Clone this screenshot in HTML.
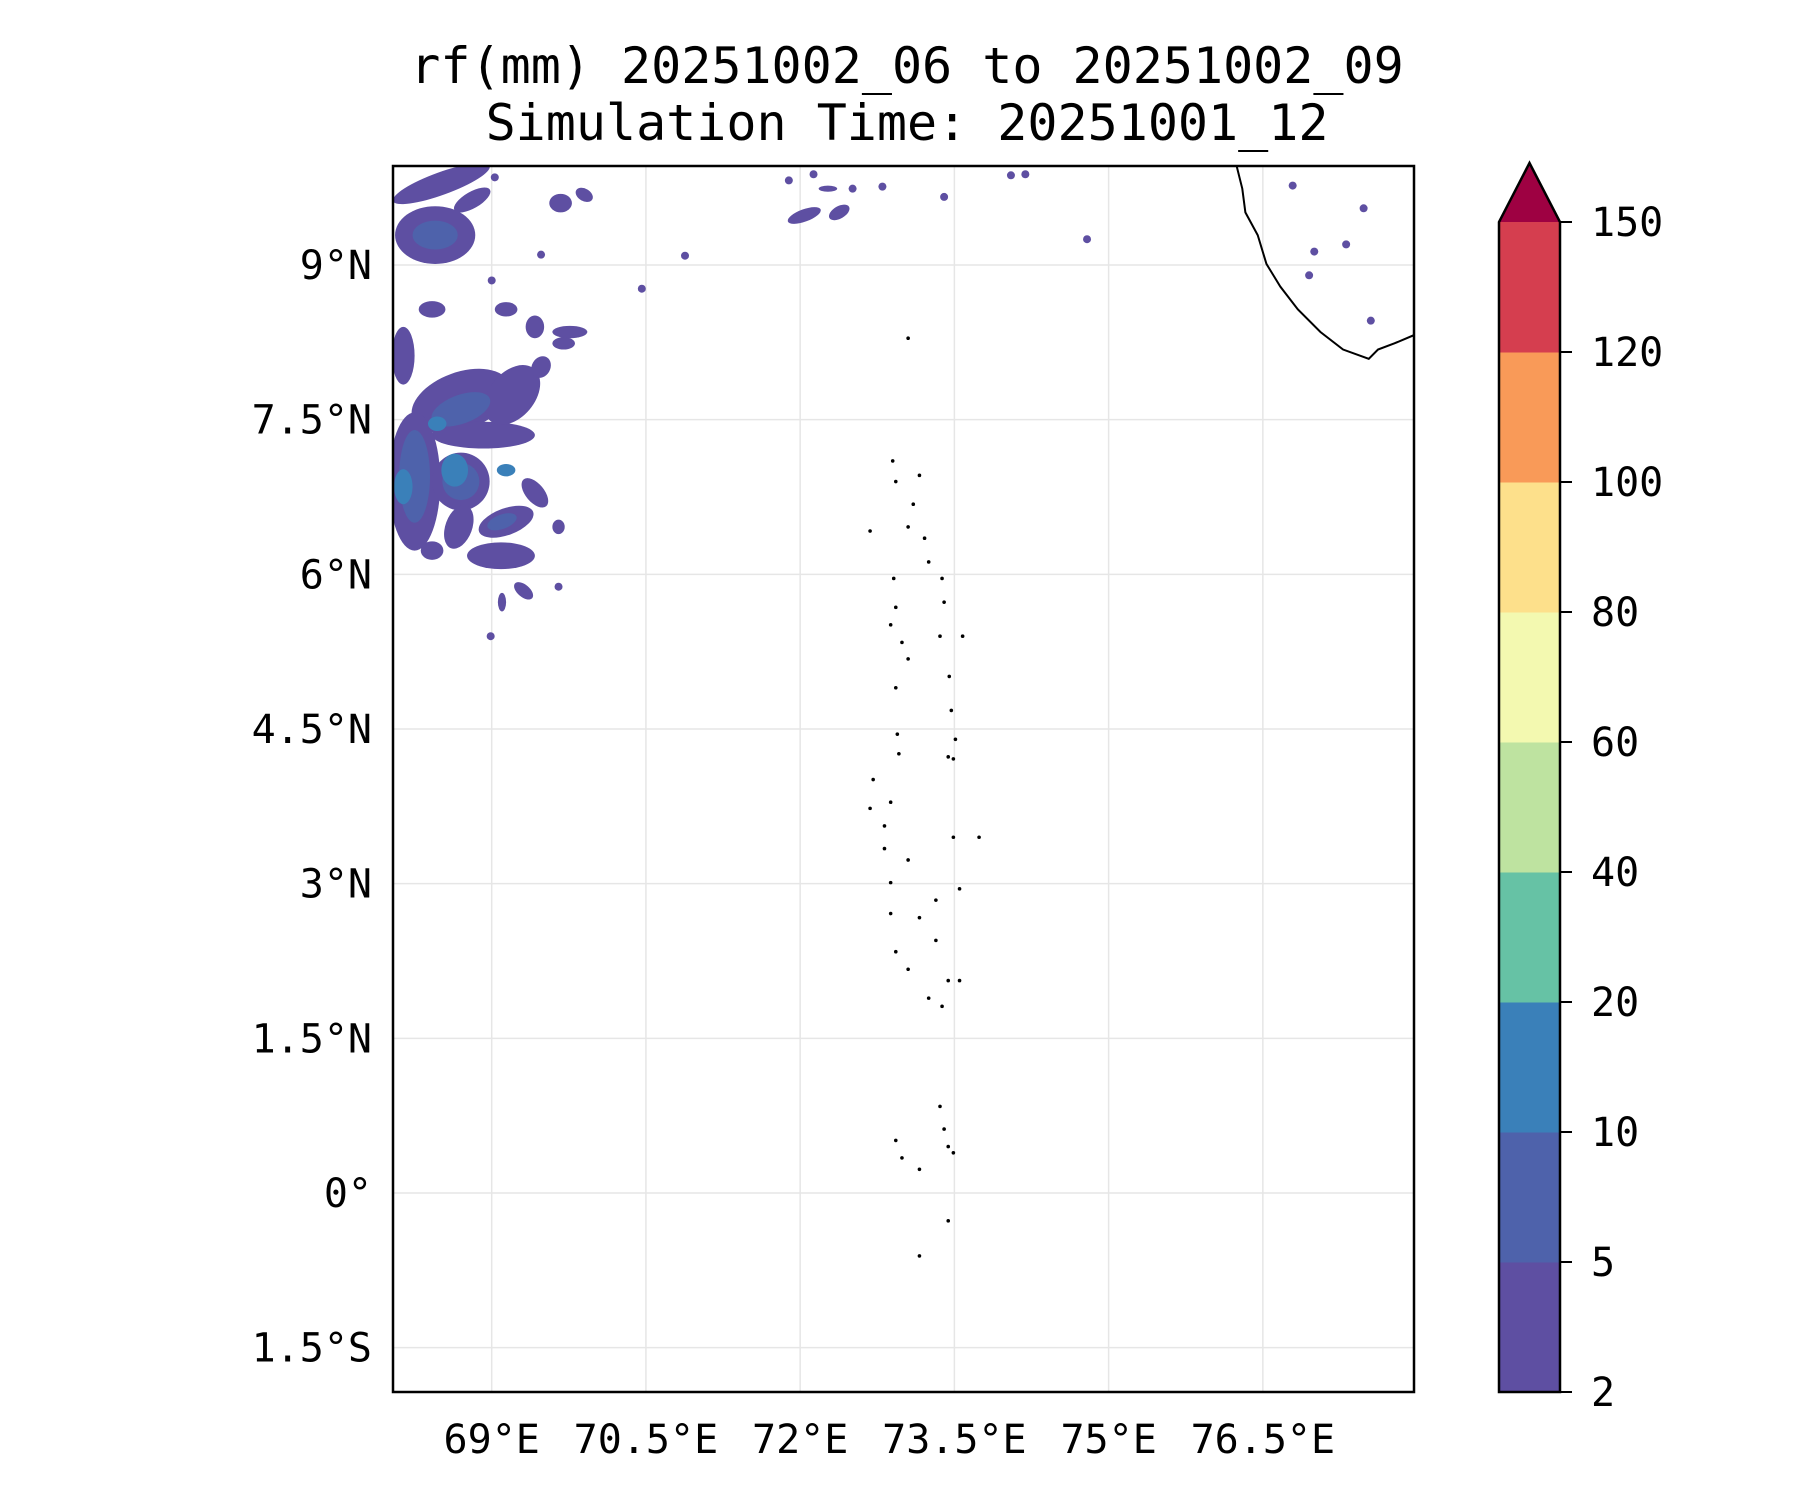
<!DOCTYPE html>
<html><head><meta charset="utf-8">
<style>
body{margin:0;background:#fff;}
svg text{font-family:"DejaVu Sans Mono","Liberation Mono",monospace;fill:#000;}
</style></head>
<body>
<svg id="chart" width="1800" height="1500" viewBox="0 0 1800 1500" xmlns="http://www.w3.org/2000/svg">
<text x="907" y="83" font-size="50" text-anchor="middle">rf(mm) 20251002_06 to 20251002_09</text>
<text x="907" y="140" font-size="50" text-anchor="middle">Simulation Time: 20251001_12</text>
<g id="plot"></g>
<g id="cbar"></g>
</svg>
<script>
const lonTicks=[69,70.5,72,73.5,75,76.5];
const lonLabels=["69°E","70.5°E","72°E","73.5°E","75°E","76.5°E"];
const latTicks=[9,7.5,6,4.5,3,1.5,0,-1.5];
const latLabels=["9°N","7.5°N","6°N","4.5°N","3°N","1.5°N","0°","1.5°S"];
const levels=[2,5,10,20,40,60,80,100,120,150];
const levelColors=["#5e4fa2","#4e62ab","#3a80b9","#66c2a5","#bee3a0","#f3f9b0","#fde08b","#f99a58","#d53e4f"];
const extendColor="#9e0142";
// rain blobs: lon, lat, rxDeg, ryDeg, angle, level index
const blobs=[
[68.51,9.79,.50,.11,-20,0],[68.45,9.29,.39,.28,0,0],[68.81,9.63,.20,.08,-30,0],
[69.67,9.60,.11,.09,0,0],[69.90,9.68,.09,.06,30,0],[72.04,9.48,.17,.06,-20,0],
[72.38,9.51,.11,.06,-30,0],[72.27,9.74,.09,.03,0,0],[68.14,8.12,.11,.28,0,0],
[68.42,8.57,.13,.08,0,0],[69.14,8.57,.11,.07,0,0],[69.42,8.40,.09,.11,0,0],
[69.76,8.35,.17,.06,0,0],[69.70,8.24,.11,.06,0,0],[68.70,7.68,.50,.28,-20,0],
[68.92,7.35,.50,.13,0,0],[69.20,7.74,.22,.33,40,0],[68.25,6.90,.25,.67,0,0],
[68.70,6.90,.28,.28,0,0],[69.14,6.51,.28,.13,-20,0],[69.09,6.18,.33,.13,0,0],
[68.68,6.46,.13,.22,20,0],[68.42,6.23,.11,.09,0,0],[69.42,6.79,.09,.17,-40,0],
[69.65,6.46,.06,.07,0,0],[69.31,5.84,.11,.06,40,0],[69.10,5.73,.04,.09,0,0],
[69.48,8.01,.09,.11,30,0],
[68.45,9.29,.22,.14,0,1],[68.70,7.60,.30,.14,-20,1],[68.25,6.95,.15,.45,0,1],[68.70,6.90,.18,.18,0,1],[69.10,6.51,.15,.07,-20,1],
[68.64,7.01,.13,.16,0,2],[68.14,6.85,.09,.17,0,2],[68.47,7.46,.09,.07,0,2],[69.14,7.01,.09,.06,0,2]
];
const rainDots=[[69.03,9.85],[69.48,9.10],[69.00,8.85],[70.46,8.77],[70.88,9.09],[73.40,9.66],[74.79,9.25],
[76.79,9.77],[76.95,8.90],[77.00,9.13],[77.31,9.20],[77.55,8.46],[77.48,9.55],[68.99,5.40],[69.65,5.88],
[74.05,9.87],[74.19,9.88],[72.51,9.74],[72.80,9.76],[72.13,9.88],[71.89,9.82]];
const coastLon=[76.245,76.30,76.33,76.45,76.535,76.67,76.84,77.06,77.28,77.53,77.62,77.78,77.97];
const coastLat=[9.96,9.74,9.51,9.29,9.01,8.79,8.57,8.35,8.18,8.09,8.18,8.24,8.32];
const islands=[[73.05,8.29],[72.90,7.10],[72.93,6.90],[73.16,6.96],[73.10,6.68],[73.05,6.46],[73.21,6.35],[73.25,6.12],
[72.68,6.42],[72.91,5.96],[72.93,5.68],[72.99,5.34],[72.88,5.51],[73.05,5.18],[72.93,4.90],[73.38,5.96],[73.40,5.73],
[73.36,5.40],[73.58,5.40],[73.45,5.01],[73.47,4.68],[73.51,4.40],[73.49,4.21],[73.44,4.23],[72.945,4.45],[72.96,4.26],
[72.71,4.01],[72.68,3.73],[72.88,3.79],[72.82,3.56],[73.49,3.45],[73.74,3.45],[72.82,3.34],[73.05,3.23],[72.88,3.01],
[73.55,2.95],[73.32,2.84],[72.88,2.71],[73.16,2.67],[73.32,2.45],[72.93,2.34],[73.05,2.17],[73.44,2.06],[73.25,1.89],
[73.38,1.81],[73.55,2.06],[73.36,0.84],[73.40,0.62],[72.93,0.51],[72.99,0.34],[73.16,0.23],[73.44,0.45],[73.49,0.39],
[73.44,-0.27],[73.16,-0.61]];
const L=393,T=166,R=1414,B=1392,lon0=68.04,lon1=77.97,lat0=9.96,lat1=-1.93;
const NS="http://www.w3.org/2000/svg";
function xs(lon){return L+(lon-lon0)/(lon1-lon0)*(R-L);}
function ys(lat){return T+(lat0-lat)/(lat0-lat1)*(B-T);}
function mk(tag,attrs,parent){const e=document.createElementNS(NS,tag);for(const k in attrs)e.setAttribute(k,attrs[k]);parent.appendChild(e);return e;}
const plot=document.getElementById('plot');
const defs=mk('defs',{},plot);
const cp=mk('clipPath',{id:'clip'},defs);mk('rect',{x:L,y:T,width:R-L,height:B-T},cp);
const inner=mk('g',{'clip-path':'url(#clip)'},plot);


const pxPerDegX=(R-L)/(lon1-lon0),pxPerDegY=(B-T)/(lat0-lat1);
lonTicks.forEach((v,i)=>{const l=mk('line',{x1:xs(v),x2:xs(v),y1:T,y2:B,stroke:'#e6e6e6','stroke-width':1.5},inner);

});
latTicks.forEach((v,i)=>{const l=mk('line',{x1:L,x2:R,y1:ys(v),y2:ys(v),stroke:'#e6e6e6','stroke-width':1.5},inner);

});
blobs.forEach(b=>{const e=mk('ellipse',{cx:xs(b[0]),cy:ys(b[1]),rx:b[2]*pxPerDegX,ry:b[3]*pxPerDegY,fill:levelColors[b[5]],transform:`rotate(${b[4]} ${xs(b[0])} ${ys(b[1])})`},inner);

});
rainDots.forEach(d=>{const e=mk('circle',{cx:xs(d[0]),cy:ys(d[1]),r:4,fill:levelColors[0]},inner);

});
const coast=mk('polyline',{points:coastLon.map((v,i)=>xs(v)+','+ys(coastLat[i])).join(' '),fill:'none',stroke:'#000','stroke-width':2},inner);


islands.forEach(d=>{const e=mk('circle',{cx:xs(d[0]),cy:ys(d[1]),r:1.8,fill:'#000'},inner);

});
const fr=mk('rect',{x:L,y:T,width:R-L,height:B-T,fill:'none',stroke:'#000','stroke-width':2.5},plot);


lonTicks.forEach((v,i)=>{const t=mk('text',{x:xs(v),y:1453,'font-size':40,'text-anchor':'middle'},plot);t.textContent=lonLabels[i];

});
latTicks.forEach((v,i)=>{const t=mk('text',{x:372,y:ys(v)+14,'font-size':40,'text-anchor':'end'},plot);t.textContent=latLabels[i];

});
// colorbar
const cb=document.getElementById('cbar');
const CL=1499,CR=1560,CT=222,CB=1392,AP=163;
const seg=(CB-CT)/(levels.length-1);
levelColors.forEach((c,i)=>{const r=mk('rect',{x:CL,y:CB-(i+1)*seg,width:CR-CL,height:seg+0.5,fill:c},cb);

});
const tri=mk('polygon',{points:`${CL},${CT} ${CR},${CT} ${(CL+CR)/2},${AP}`,fill:extendColor},cb);


const ol=mk('polygon',{points:`${CL},${CB} ${CL},${CT} ${(CL+CR)/2},${AP} ${CR},${CT} ${CR},${CB}`,fill:'none',stroke:'#000','stroke-width':2.5},cb);


levels.forEach((v,i)=>{const y=CB-i*seg;
mk('line',{x1:CR,x2:CR+12,y1:y,y2:y,stroke:'#000','stroke-width':2},cb);
const t=mk('text',{x:1591,y:y+14,'font-size':40},cb);t.textContent=v;

});
</script>
</body></html>
